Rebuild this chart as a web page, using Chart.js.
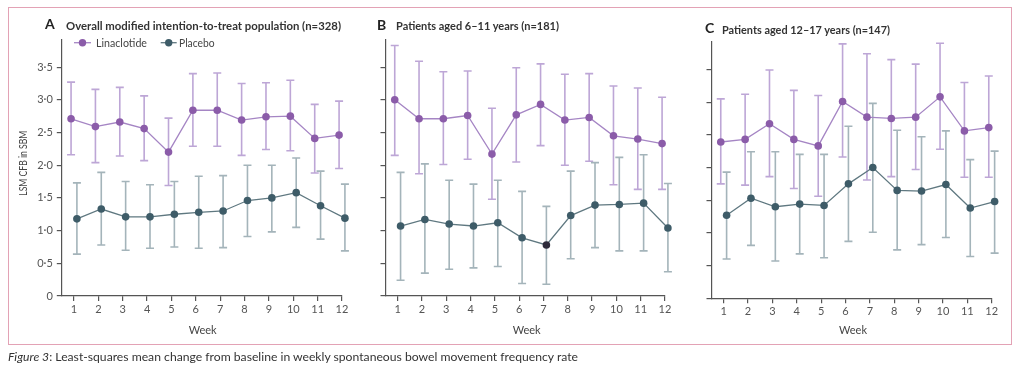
<!DOCTYPE html>
<html><head><meta charset="utf-8">
<script src="https://cdn.jsdelivr.net/npm/chart.js@4.4.1/dist/chart.umd.min.js"></script>
<style>
html,body{margin:0;padding:0;}
body{width:1022px;height:369px;background:#fff;position:relative;overflow:hidden;font-family:Lato,"Open Sans",sans-serif;}
canvas.c{position:absolute;left:0;top:0;pointer-events:none;}
.frame{position:absolute;left:8px;top:7px;width:1002px;height:336px;border:1.3px solid #e3a2b5;box-sizing:content-box;}
.t{position:absolute;white-space:nowrap;color:#333;line-height:1;transform-origin:0 50%;}
.b{font-weight:bold;}
</style></head><body>
<div class="frame"></div>
<canvas class="c" id="cA" width="1022" height="369"></canvas>
<canvas class="c" id="cB" width="1022" height="369"></canvas>
<canvas class="c" id="cC" width="1022" height="369"></canvas>

<div class="t b" style="left:45px;top:17px;font-size:14px;color:#222">A</div>
<div class="t b" data-w="275" style="left:66px;top:19.5px;font-size:11px">Overall modified intention-to-treat population (n=328)</div>
<div class="t b" style="left:377px;top:18px;font-size:14px;color:#222">B</div>
<div class="t b" data-w="163" style="left:396px;top:20px;font-size:11px">Patients aged 6–11 years (n=181)</div>
<div class="t b" style="left:705px;top:21px;font-size:14px;color:#222">C</div>
<div class="t b" data-w="168" style="left:722px;top:23.5px;font-size:11px">Patients aged 12–17 years (n=147)</div>

<svg style="position:absolute;left:0;top:0" width="1022" height="369">
  <line x1="74" y1="42.7" x2="91" y2="42.7" stroke="#a585c4" stroke-width="1.3"/>
  <circle cx="82.5" cy="42.7" r="3.7" fill="#8b5ca9"/>
  <line x1="160.7" y1="42.7" x2="176.7" y2="42.7" stroke="#5f7880" stroke-width="1.3"/>
  <circle cx="168.7" cy="42.7" r="3.7" fill="#3e5c68"/>
</svg>
<div class="t" data-w="51" style="left:96px;top:37px;font-size:11px;color:#444">Linaclotide</div>
<div class="t" data-w="35.5" style="left:179.3px;top:37px;font-size:11px;color:#444">Placebo</div>

<div class="t" id="ylab" style="left:0;top:0;font-size:10.5px;color:#444">LSM CFB in SBM</div>

<div class="t wk" style="left:202.7px;top:323.5px;font-size:11px;color:#444">Week</div>
<div class="t wk" style="left:526.7px;top:323.5px;font-size:11px;color:#444">Week</div>
<div class="t wk" style="left:853px;top:323.5px;font-size:11px;color:#444">Week</div>

<div class="t" data-w="570" style="left:8px;top:351px;font-size:11.5px;color:#333"><i>Figure 3</i>: Least-squares mean change from baseline in weekly spontaneous bowel movement frequency rate</div>

<script>
// ---------- data ----------
const weeks = [1,2,3,4,5,6,7,8,9,10,11,12];
const yTickValues = [0,0.5,1,1.5,2,2.5,3,3.5];
const yTickLabels = ['0','0·5','1·0','1·5','2·0','2·5','3·0','3·5'];
const seriesNames = ['Linaclotide','Placebo'];

// Panel A: overall mITT population
const linA_mean = [2.71,2.59,2.66,2.56,2.20,2.84,2.84,2.69,2.74,2.75,2.41,2.46];
const linA_low  = [2.16,2.04,2.14,2.07,1.69,2.29,2.29,2.15,2.24,2.22,1.88,1.95];
const linA_high = [3.27,3.16,3.19,3.06,2.72,3.40,3.41,3.25,3.26,3.30,2.93,2.98];
const plaA_mean = [1.18,1.33,1.21,1.21,1.25,1.28,1.30,1.46,1.50,1.58,1.38,1.19];
const plaA_low  = [0.64,0.78,0.70,0.73,0.75,0.73,0.74,0.91,0.98,1.05,0.87,0.69];
const plaA_high = [1.73,1.89,1.75,1.70,1.75,1.83,1.84,2.00,2.00,2.11,1.91,1.71];

// Panel B: aged 6-11
const linB_mean = [3.00,2.71,2.71,2.76,2.17,2.77,2.93,2.69,2.73,2.45,2.40,2.33];
const linB_low  = [2.15,1.87,2.01,2.09,1.48,2.05,2.30,2.00,2.06,1.70,1.63,1.63];
const linB_high = [3.83,3.59,3.43,3.44,2.87,3.49,3.55,3.39,3.40,3.21,3.18,3.04];
const plaB_mean = [1.07,1.17,1.10,1.07,1.12,0.89,0.78,1.23,1.39,1.40,1.42,1.04];
const plaB_low  = [0.24,0.35,0.41,0.43,0.45,0.19,0.18,0.57,0.74,0.69,0.69,0.37];
const plaB_high = [1.89,2.02,1.77,1.71,1.77,1.60,1.37,1.91,2.04,2.12,2.16,1.72];

// Panel C: aged 12-17
const linC_mean = [2.39,2.43,2.67,2.43,2.33,3.01,2.77,2.75,2.77,3.08,2.56,2.61];
const linC_low  = [1.75,1.73,1.86,1.68,1.56,2.16,1.81,1.86,1.97,2.28,1.85,1.85];
const linC_high = [3.05,3.12,3.49,3.18,3.10,3.89,3.74,3.65,3.58,3.90,3.30,3.40];
const plaC_mean = [1.27,1.53,1.40,1.44,1.42,1.75,2.00,1.65,1.64,1.74,1.38,1.48];
const plaC_low  = [0.60,0.81,0.57,0.68,0.62,0.87,1.01,0.74,0.82,0.93,0.64,0.69];
const plaC_high = [1.93,2.24,2.24,2.20,2.20,2.63,2.98,2.57,2.47,2.56,2.12,2.25];

// ---------- styles ----------
const LIN = {marker:'#8b5ca9', line:'#a585c4', err:'#bda6d6', dx:-0.12};
const PLA = {marker:'#3e5c68', line:'#5f7880', err:'#a4b4ba', dx:0.12};
const AXIS = '#555';
const FONT = 'Lato, "Open Sans", sans-serif';

const errorBars = {
  id:'errorBars',
  beforeDatasetsDraw(chart){
    const ctx = chart.ctx, xs = chart.scales.x, ys = chart.scales.y;
    chart.data.datasets.forEach(ds=>{
      ctx.save();
      ctx.strokeStyle = ds.errColor; ctx.lineWidth = 1.6;
      ds.data.forEach((p,i)=>{
        const x = xs.getPixelForValue(p.x);
        const yl = ys.getPixelForValue(ds.errLow[i]);
        const yh = ys.getPixelForValue(ds.errHigh[i]);
        ctx.beginPath();
        ctx.moveTo(x,yl); ctx.lineTo(x,yh);
        ctx.moveTo(x-4,yl); ctx.lineTo(x+4,yl);
        ctx.moveTo(x-4,yh); ctx.lineTo(x+4,yh);
        ctx.stroke();
      });
      ctx.restore();
    });
  }
};

function makeDs(name, style, mean, low, high, markerFn){
  return {
    label:name,
    data: weeks.map((w,i)=>({x:w+style.dx, y:mean[i]})),
    errLow:low, errHigh:high, errColor:style.err,
    borderColor:style.line, borderWidth:1.3,
    pointBackgroundColor: markerFn || style.marker,
    pointBorderColor: markerFn || style.marker,
    pointRadius:3.8, pointBorderWidth:0,
    showLine:true, clip:false, tension:0
  };
}

function panel(id, box, showYLabels, datasets){
  const yW = 30, xH = 30;
  new Chart(document.getElementById(id), {
    type:'scatter',
    data:{datasets},
    plugins:[errorBars],
    options:{
      responsive:false, animation:false, events:[],
      layout:{padding:{left:box.left - yW, right:1022 - box.right, top:box.bottom - 3.92*65.4, bottom:369 - box.bottom - xH}},
      plugins:{legend:{display:false}, tooltip:{enabled:false}},
      scales:{
        x:{type:'linear', min:0.5, max:12,
          afterBuildTicks:s=>{ s.ticks = weeks.map(v=>({value:v})); },
          afterFit:s=>{ s.height = xH; },
          border:{display:true,color:AXIS,width:1.2},
          grid:{drawOnChartArea:false, drawTicks:true, tickLength:5, color:AXIS, lineWidth:1.2},
          ticks:{color:'#555', font:{family:FONT,size:11}, padding:2, maxRotation:0, autoSkip:false,
                 callback:(v)=>String(v)}
        },
        y:{type:'linear', min:0, max:3.92,
          afterBuildTicks:s=>{ s.ticks = yTickValues.map(v=>({value:v})); },
          afterFit:s=>{ s.width = yW; },
          border:{display:true,color:AXIS,width:1.2},
          grid:{drawOnChartArea:false, drawTicks:true, tickLength:5, color:AXIS, lineWidth:1.2},
          ticks:{display:showYLabels, color:'#555', font:{family:FONT,size:11}, padding:4,
                 callback:(v,i)=>yTickLabels[i]}
        }
      }
    }
  });
}

panel('cA', {left:61.8, right:342, bottom:296}, true, [
  makeDs(seriesNames[0], LIN, linA_mean, linA_low, linA_high),
  makeDs(seriesNames[1], PLA, plaA_mean, plaA_low, plaA_high)
]);
panel('cB', {left:385.5, right:665, bottom:296}, false, [
  makeDs(seriesNames[0], LIN, linB_mean, linB_low, linB_high),
  makeDs(seriesNames[1], PLA, plaB_mean, plaB_low, plaB_high, c=>c.dataIndex===6?'#2d2a3a':PLA.marker)
]);
panel('cC', {left:711.5, right:991.7, bottom:298.3}, false, [
  makeDs(seriesNames[0], LIN, linC_mean, linC_low, linC_high),
  makeDs(seriesNames[1], PLA, plaC_mean, plaC_low, plaC_high)
]);

// ---------- text fitting ----------
document.querySelectorAll('.t[data-w]').forEach(el=>{
  const w = el.getBoundingClientRect().width;
  const target = parseFloat(el.dataset.w);
  el.style.transform = 'scaleX(' + (target/w) + ')';
});
document.querySelectorAll('.wk').forEach(el=>{
  const w = el.getBoundingClientRect().width;
  el.style.left = (parseFloat(el.style.left) - w/2) + 'px';
});
(function(){
  const el = document.getElementById('ylab');
  const r = el.getBoundingClientRect();
  const cx = 23.5, cy = 163.5, len = 65;
  const s = len / r.width;
  el.style.transformOrigin = '50% 50%';
  el.style.left = (cx - r.width/2) + 'px';
  el.style.top = (cy - r.height/2) + 'px';
  el.style.transform = 'rotate(-90deg) scaleX(' + s + ')';
})();
</script>
</body></html>
